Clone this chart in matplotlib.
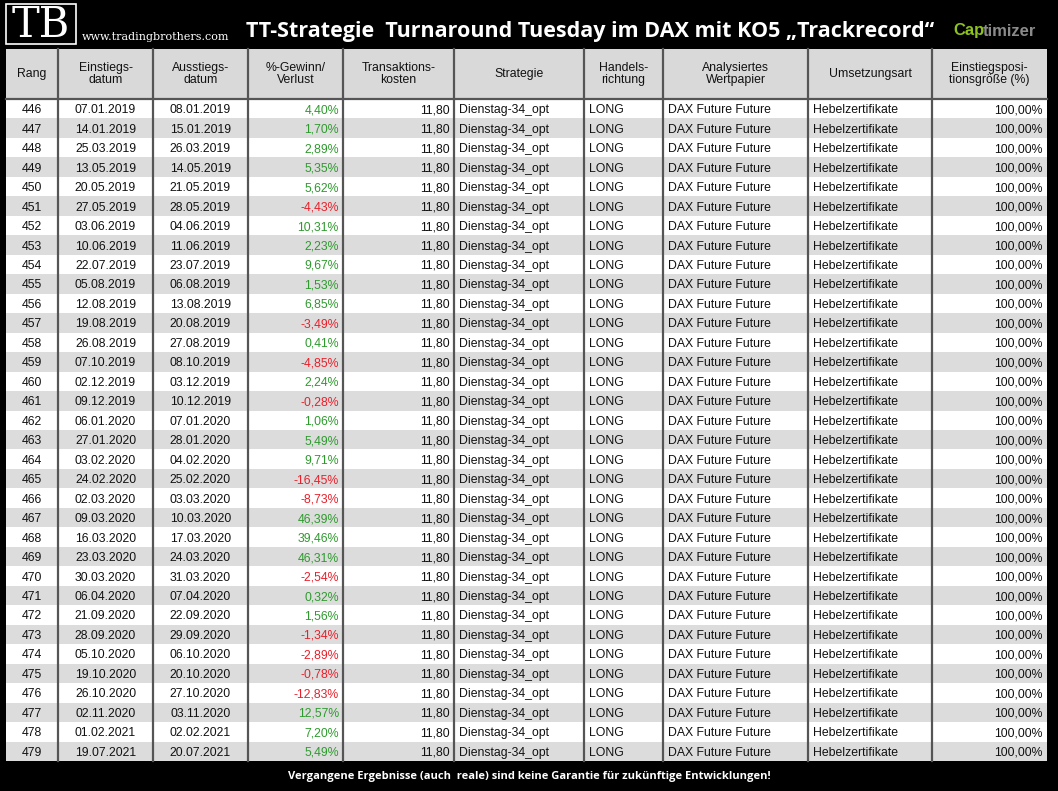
import matplotlib.pyplot as plt
from matplotlib.patches import Rectangle

rang = list(range(446, 480))
entry = ["07.01.2019", "14.01.2019", "25.03.2019", "13.05.2019", "20.05.2019", "27.05.2019",
         "03.06.2019", "10.06.2019", "22.07.2019", "05.08.2019", "12.08.2019", "19.08.2019",
         "26.08.2019", "07.10.2019", "02.12.2019", "09.12.2019", "06.01.2020", "27.01.2020",
         "03.02.2020", "24.02.2020", "02.03.2020", "09.03.2020", "16.03.2020", "23.03.2020",
         "30.03.2020", "06.04.2020", "21.09.2020", "28.09.2020", "05.10.2020", "19.10.2020",
         "26.10.2020", "02.11.2020", "01.02.2021", "19.07.2021"]
exits = ["08.01.2019", "15.01.2019", "26.03.2019", "14.05.2019", "21.05.2019", "28.05.2019",
         "04.06.2019", "11.06.2019", "23.07.2019", "06.08.2019", "13.08.2019", "20.08.2019",
         "27.08.2019", "08.10.2019", "03.12.2019", "10.12.2019", "07.01.2020", "28.01.2020",
         "04.02.2020", "25.02.2020", "03.03.2020", "10.03.2020", "17.03.2020", "24.03.2020",
         "31.03.2020", "07.04.2020", "22.09.2020", "29.09.2020", "06.10.2020", "20.10.2020",
         "27.10.2020", "03.11.2020", "02.02.2021", "20.07.2021"]
pnl = [4.40, 1.70, 2.89, 5.35, 5.62, -4.43, 10.31, 2.23, 9.67, 1.53, 6.85, -3.49, 0.41, -4.85,
       2.24, -0.28, 1.06, 5.49, 9.71, -16.45, -8.73, 46.39, 39.46, 46.31, -2.54, 0.32, 1.56,
       -1.34, -2.89, -0.78, -12.83, 12.57, 7.20, 5.49]
kosten = "11,80"
strategie = "Dienstag-34_opt"
richtung = "LONG"
wertpapier = "DAX Future Future"
umsetzung = "Hebelzertifikate"
groesse = "100,00%"

headers = ["Rang", "Einstiegs-\ndatum", "Ausstiegs-\ndatum", "%-Gewinn/\nVerlust",
           "Transaktions-\nkosten", "Strategie", "Handels-\nrichtung", "Analysiertes\nWertpapier",
           "Umsetzungsart", "Einstiegsposi-\ntionsgröße (%)"]

col_x = [6, 58, 153, 248, 343, 454, 584, 663, 808, 932, 1047]
aligns = ["center", "center", "center", "right", "right", "left", "left", "left", "left", "right"]
head_top, head_bot, tab_bot = 49, 99, 761
row_h = (tab_bot - head_bot) / len(rang)

fig = plt.figure(figsize=(10.58, 7.91), dpi=100, facecolor="black")
ax = fig.add_axes([0, 0, 1, 1])
ax.set_xlim(0, 1058)
ax.set_ylim(791, 0)
ax.axis("off")

font = "Liberation Sans"
green, red = "#2e9a2e", "#e8202a"

# header
ax.add_patch(Rectangle((col_x[0], head_top), col_x[-1] - col_x[0], head_bot - head_top,
                       facecolor="#d9d9d9", edgecolor="none"))
for i, h in enumerate(headers):
    ax.text((col_x[i] + col_x[i + 1]) / 2, (head_top + head_bot) / 2, h, ha="center",
            va="center", fontsize=8.8, family=font, color="#111111", linespacing=1.1)

# rows
for r in range(len(rang)):
    y0 = head_bot + r * row_h
    yb = y0 + row_h / 2 + 4.5
    ax.add_patch(Rectangle((col_x[0], y0), col_x[-1] - col_x[0], row_h,
                           facecolor="white" if r % 2 == 0 else "#dcdcdc", edgecolor="none"))
    p = pnl[r]
    vals = [str(rang[r]), entry[r], exits[r], f"{p:.2f}%".replace(".", ","), kosten,
            strategie, richtung, wertpapier, umsetzung, groesse]
    for c, v in enumerate(vals):
        a = aligns[c]
        if a == "center":
            x = (col_x[c] + col_x[c + 1]) / 2
        elif a == "right":
            x = col_x[c + 1] - 4
        else:
            x = col_x[c] + 5
        color = "#111111"
        if c == 3:
            color = green if p >= 0 else red
        ax.text(x, yb, v, ha=a, va="baseline", fontsize=8.8, family=font, color=color)

# grid lines
for x in col_x[1:-1]:
    ax.plot([x, x], [head_top, tab_bot], color="#555555", lw=1.6)
ax.plot([col_x[0], col_x[-1]], [head_bot, head_bot], color="#555555", lw=1.6)

# title area
ax.add_patch(Rectangle((6, 4), 70, 40, facecolor="black", edgecolor="white", lw=1.2))
ax.text(41, 25, "TB", ha="center", va="center", fontsize=30, family="DejaVu Serif",
        color="white")
ax.text(82, 37, "www.tradingbrothers.com", ha="left", va="center", fontsize=8,
        family="DejaVu Serif", color="white")
ax.text(590, 31, "TT-Strategie  Turnaround Tuesday im DAX mit KO5 „Trackrecord“",
        ha="center", va="center", fontsize=15.5, family="Open Sans", weight="bold",
        color="white")
ax.text(953, 31, "Cap", ha="left", va="center", fontsize=12, family=font, weight="bold",
        color="#8dc21f")
ax.text(983, 31, "timizer", ha="left", va="center", fontsize=12, family=font,
        weight="bold", color="#8a8a8a")
ax.text(529, 776, "Vergangene Ergebnisse (auch  reale) sind keine Garantie für zukünftige Entwicklungen!",
        ha="center", va="center", fontsize=8, family="Open Sans", weight="bold", color="white")

fig.savefig("out.png", dpi=100, facecolor="black")
